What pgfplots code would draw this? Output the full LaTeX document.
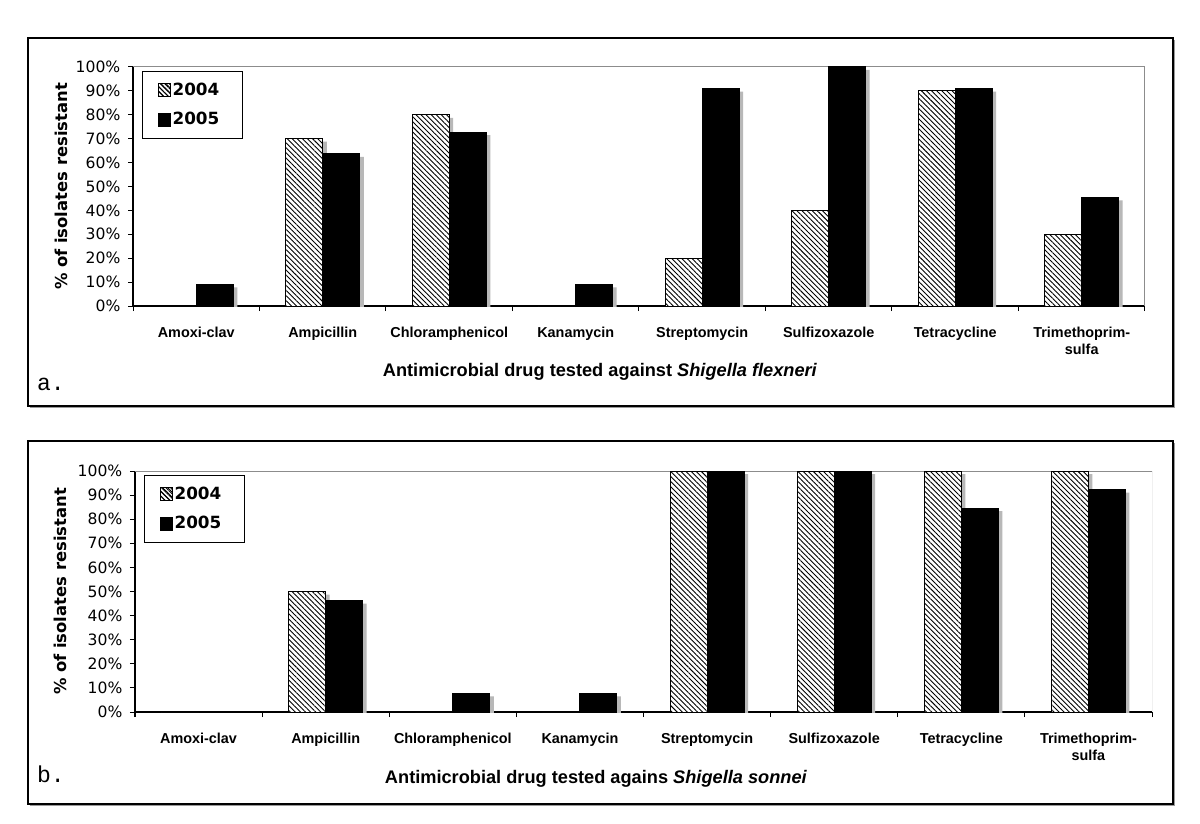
\documentclass[border=0pt]{standalone}
\usepackage{fontspec}
\setmainfont{Liberation Sans}
\newfontfamily\dvs{DejaVu Sans}
\newfontfamily\mono{Liberation Mono}
\usepackage{pgfplots}
\pgfplotsset{compat=1.18}
\usetikzlibrary{patterns.meta,shadows}

\newcommand\tickfont{\dvs\fontsize{7.8}{8}\selectfont}
\newcommand\labfont{\dvs\bfseries\fontsize{8.2}{9}\selectfont}
\newcommand\legfont{\dvs\bfseries\fontsize{8.4}{9}\selectfont}
\newcommand\catfont{\bfseries\fontsize{7.2}{8.7}\selectfont}
\newcommand\titfont{\bfseries\fontsize{9.1}{10}\selectfont}

\tikzset{
  hatch/.style={pattern={Lines[angle=-45,distance=1.8pt,line width=0.45pt]}},
}

\pgfplotsset{
  panel/.style={
    scale only axis,
    ybar=0pt, bar width=18.5pt,
    xmin=-0.5, xmax=7.5, ymin=0, ymax=100,
    axis x line=bottom, axis y line=left,
    axis line style={-, line width=0.6pt},
    tick align=outside, major tick length=2.5pt, minor tick length=2.5pt,
    tick style={line width=0.5pt, black},
    xtick={0,...,7},
    xticklabels={Amoxi-clav,Ampicillin,Chloramphenicol,Kanamycin,Streptomycin,Sulfizoxazole,Tetracycline,{Trimethoprim-\\sulfa}},
    major x tick style={draw=none},
    minor xtick={-0.5,0.5,...,7.5},
    xticklabel style={font=\catfont, align=center, yshift=-4.3pt},
    ytick={0,10,...,100},
    yticklabels={0\%,10\%,20\%,30\%,40\%,50\%,60\%,70\%,80\%,90\%,100\%},
    yticklabel style={font=\tickfont, xshift=-0.3pt},
    legend style={at={(axis description cs:0,1)}, anchor=north west,
      xshift=4.5pt, yshift=-2pt, draw=black, line width=0.6pt,
      font=\legfont, inner xsep=7.5pt, inner ysep=3.5pt, row sep=3pt,
      nodes={inner xsep=0.6pt}, cells={anchor=west}},
    legend cell align=left,
  },
  shad/.style={forget plot, fill=black!28, draw=none, xshift=2pt, yshift=-1.5pt, bar shift=#1},
  s2004/.style={draw=black, line width=0.5pt, fill=white, postaction={hatch}, bar shift=-9.25pt,
    legend image code/.code={\draw[line width=0.5pt, fill=white, postaction={pattern={Lines[angle=-45,distance=1.6pt,line width=0.45pt]}}] (0pt,-3.2pt) rectangle (6.4pt,3.2pt);}},
  s2005/.style={draw=black, fill=black, line width=0.5pt, bar shift=9.25pt,
    legend image code/.code={\draw[fill=black] (0pt,-3.2pt) rectangle (6.4pt,3.2pt);}},
}

\begin{document}
\begin{tikzpicture}
\path (0,0) rectangle (600pt,-412pt);
% frames
\draw[line width=0.9pt, fill=white, drop shadow={shadow xshift=1pt,shadow yshift=-1pt,fill=black!40,opacity=1}] (14pt,-19pt) rectangle (586.5pt,-203pt);
\draw[line width=0.9pt, fill=white, drop shadow={shadow xshift=1pt,shadow yshift=-1pt,fill=black!40,opacity=1}] (14pt,-220.5pt) rectangle (586.5pt,-402pt);

% panel a
\begin{axis}[panel, at={(66.5pt,-153pt)}, anchor=south west, width=506pt, height=119.5pt,
  ylabel={\labfont\% of isolates resistant},
  every axis y label/.style={at={(axis description cs:-0.071,0.5)}, rotate=90, anchor=center}]
\draw[black!45, line width=0.5pt] (rel axis cs:0,1) -- (rel axis cs:1,1) -- (rel axis cs:1,0);
\addplot[shad=-9.25pt] coordinates {(0,0) (1,70) (2,80) (3,0) (4,20) (5,40) (6,90) (7,30)};
\addplot[s2004] coordinates {(0,0) (1,70) (2,80) (3,0) (4,20) (5,40) (6,90) (7,30)};
\addplot[shad=9.25pt] coordinates {(0,9.1) (1,63.6) (2,72.7) (3,9.1) (4,90.9) (5,100) (6,90.9) (7,45.5)};
\addplot[s2005] coordinates {(0,9.1) (1,63.6) (2,72.7) (3,9.1) (4,90.9) (5,100) (6,90.9) (7,45.5)};
\legend{2004\hspace*{3.5pt},2005\hspace*{3.5pt}}
\end{axis}
\node[font=\titfont] at (300pt,-186pt) {Antimicrobial drug tested against \textit{Shigella flexneri}};
\node[font=\mono\fontsize{11.5}{12}\selectfont, anchor=west] at (15pt,-192pt) {a.};

% panel b
\begin{axis}[panel, at={(67.5pt,-356pt)}, anchor=south west, width=508.5pt, height=120.5pt,
  ylabel={\labfont\% of isolates resistant},
  every axis y label/.style={at={(axis description cs:-0.0737,0.5)}, rotate=90, anchor=center}]
\draw[black!45, line width=0.5pt] (rel axis cs:0,1) -- (rel axis cs:1,1) -- (rel axis cs:1,0);
\addplot[shad=-9.25pt] coordinates {(0,0) (1,50) (2,0) (3,0) (4,100) (5,100) (6,100) (7,100)};
\addplot[s2004] coordinates {(0,0) (1,50) (2,0) (3,0) (4,100) (5,100) (6,100) (7,100)};
\addplot[shad=9.25pt] coordinates {(0,0) (1,46.2) (2,7.7) (3,7.7) (4,100) (5,100) (6,84.6) (7,92.3)};
\addplot[s2005] coordinates {(0,0) (1,46.2) (2,7.7) (3,7.7) (4,100) (5,100) (6,84.6) (7,92.3)};
\legend{2004\hspace*{3.5pt},2005\hspace*{3.5pt}}
\end{axis}
\node[font=\titfont] at (298pt,-389.5pt) {Antimicrobial drug tested agains \textit{Shigella sonnei}};
\node[font=\mono\fontsize{11.5}{12}\selectfont, anchor=west] at (15pt,-387pt) {b.};
\end{tikzpicture}
\end{document}
